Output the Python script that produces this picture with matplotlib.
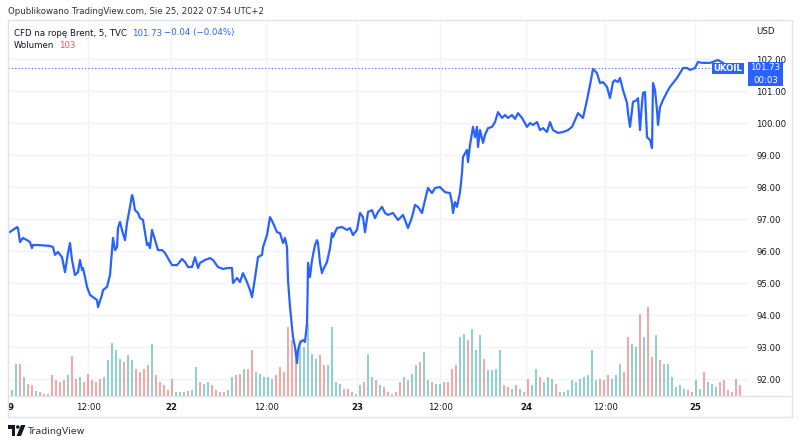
import numpy as np
import matplotlib
matplotlib.use("Agg")
import matplotlib.pyplot as plt
from matplotlib.patches import Rectangle, Polygon, Ellipse
from matplotlib.lines import Line2D
import matplotlib.transforms as mtransforms

# ---------------- data ----------------
# trading-time index (compressed session axis, ~34 min per unit)
t = [0, 1.25, 2.25, 2.5, 3, 3.75, 4.75, 5.5, 6, 6.25,
     7.25, 10.5, 11.25, 11.75, 12.5, 13.5, 14.25, 15, 15.5, 16,
     16.75, 17.5, 18, 18.5, 18.75, 19.25, 19.75, 20.5, 21.25, 22.25,
     22.5, 23.5, 23.75, 24.75, 25.5, 26.25, 26.75, 27.25, 27.5, 28,
     28.5, 29.25, 29.75, 30.5, 31, 31.25, 31.75, 32.25, 32.5, 33,
     33.75, 34.75, 35, 35.5, 36, 36.75, 37.5, 38.5, 39.25, 40,
     41, 42.25, 43.5, 44.25, 45, 46, 46.75, 47.5, 48, 49.25,
     50.5, 51.25, 52.5, 53.75, 55, 56, 56.25, 57.25, 58, 58.75,
     59.75, 60.5, 61, 61.75, 62.5, 63.5, 63.75, 64.75, 65.5, 66.25,
     67.25, 68, 68.75, 69.25, 69.75, 70, 70.5, 71.25, 71.75, 72.25,
     72.5, 73, 73.75, 74.25, 74.75, 74.9, 75, 75.5, 76, 76.25,
     76.75, 77.25, 77.5, 78, 78.5, 78.75, 79.75, 80.5, 81, 81.25,
     82.25, 83.5, 84.75, 85.5, 86.25, 87.25, 88, 88.75, 89.25, 90,
     91, 91.75, 92.5, 93.5, 94.25, 95, 96.25, 97.5, 98.75, 100,
     101, 101.75, 102.5, 103.5, 104.25, 105, 106, 106.75, 108, 109.25,
     110.5, 111, 111.25, 111.75, 112.25, 113, 113.5, 113.75, 114.75, 115,
     115.5, 116.25, 116.75, 117.25, 117.5, 118, 118.75, 119.25, 120, 121,
     121.75, 122.5, 123.5, 124.25, 125, 126, 126.75, 127.5, 128.5, 129.75,
     130.5, 131.25, 132.25, 133, 133.75, 134.75, 135.5, 136.25, 137.5, 138.75,
     140, 141, 141.75, 142.5, 143.5, 143.75, 144.75, 145.5, 146.25, 147.25,
     148, 148.75, 149.75, 150.5, 151.25, 151.75, 152.5, 153, 153.75, 154.75,
     155, 155.5, 156, 156.25, 157.25, 157.5, 158, 158.5, 158.75, 159.25,
     159.75, 160.5, 161, 161.25, 161.75, 162.25, 162.5, 163, 163.75, 164.75,
     165.5, 166.25, 167.25, 168, 168.75, 169.75, 170.5, 171.75, 172.5, 173.5,
     174.75, 175.5, 176.25, 177.5, 179.25, 181, 183]

price = [96.56, 96.66, 96.75, 96.72, 96.28, 96.41, 96.34, 96.28, 96.09, 96.19,
         96.19, 96.16, 96.12, 95.88, 95.97, 95.81, 95.34, 95.94, 96.25, 95.72,
         95.25, 95.34, 95.72, 95.41, 95.47, 95.19, 94.88, 94.63, 94.56, 94.47,
         94.25, 94.63, 94.78, 94.88, 95.25, 96.41, 96.03, 96.12, 96.72, 96.91,
         96.66, 96.34, 96.88, 97.38, 97.75, 97.66, 97.28, 97.22, 97.19, 97.03,
         96.97, 96.19, 96.25, 96.09, 96.66, 96.34, 96.03, 96.03, 95.94, 95.78,
         95.56, 95.56, 95.75, 95.66, 95.5, 95.5, 95.81, 95.47, 95.63, 95.72,
         95.78, 95.72, 95.5, 95.44, 95.47, 95.47, 95.0, 95.16, 95.03, 95.31,
         95.03, 94.78, 94.56, 95.16, 95.81, 95.88, 96.12, 96.5, 97.06, 96.88,
         96.59, 96.56, 96.25, 96.41, 96.12, 95.09, 94.25, 93.31, 93.0, 92.5,
         92.91, 93.13, 93.22, 93.16, 93.75, 94.69, 95.63, 95.19, 95.72, 95.88,
         96.19, 96.34, 96.25, 95.63, 95.31, 95.41, 95.66, 96.09, 96.56, 96.44,
         96.72, 96.75, 96.66, 96.72, 96.5, 96.66, 97.19, 97.06, 96.59, 97.22,
         97.28, 97.03, 97.22, 97.38, 97.19, 97.13, 97.19, 96.97, 97.13, 96.72,
         97.06, 97.44, 97.38, 97.19, 97.59, 97.97, 97.81, 97.97, 98.0, 97.84,
         97.81, 97.5, 97.19, 97.53, 97.38, 97.84, 98.44, 98.94, 99.16, 98.78,
         99.31, 99.88, 99.56, 99.88, 99.25, 99.78, 99.38, 99.63, 99.84, 99.88,
         100.03, 100.34, 100.16, 100.25, 100.16, 100.25, 100.13, 100.31, 100.16, 99.88,
         100.0, 99.94, 100.03, 99.78, 99.84, 99.72, 100.03, 99.78, 99.69, 99.72,
         99.78, 99.88, 100.09, 100.31, 100.19, 100.16, 100.72, 101.19, 101.69, 101.56,
         101.25, 101.28, 101.13, 100.78, 101.28, 101.34, 101.28, 101.41, 101.03, 100.63,
         100.31, 99.88, 100.41, 100.66, 100.72, 100.78, 99.78, 100.63, 100.94, 100.97,
         99.56, 99.47, 99.22, 101.25, 101.03, 100.41, 99.94, 100.5, 100.72, 100.97,
         101.13, 101.25, 101.41, 101.56, 101.72, 101.72, 101.66, 101.72, 101.91, 101.88,
         101.88, 101.88, 101.91, 101.97, 101.84, 101.78, 101.73]

volume = [64, 34, 194, 194, 114, 70, 64, 30, 24, 14,
          14, 124, 94, 84, 94, 124, 240, 104, 114, 84,
          134, 94, 84, 104, 114, 214, 320, 274, 224, 204,
          244, 214, 164, 144, 164, 184, 314, 124, 84, 64,
          34, 104, 24, 24, 24, 30, 38, 174, 84, 74,
          84, 64, 34, 24, 24, 34, 114, 124, 134, 164,
          164, 274, 144, 134, 114, 114, 104, 124, 174, 144,
          414, 334, 224, 334, 294, 434, 254, 224, 244, 184,
          184, 414, 84, 74, 44, 44, 24, 14, 64, 84,
          254, 114, 94, 64, 54, 24, 14, 24, 84, 114,
          94, 134, 184, 204, 264, 94, 84, 74, 74, 84,
          84, 164, 184, 354, 374, 334, 404, 274, 364, 224,
          154, 154, 164, 274, 64, 54, 44, 64, 44, 24,
          104, 64, 164, 114, 84, 114, 104, 74, 24, 24,
          34, 94, 84, 104, 114, 124, 274, 94, 104, 94,
          124, 104, 124, 194, 144, 354, 314, 294, 494, 354,
          534, 234, 364, 214, 194, 194, 114, 54, 64, 44,
          34, 24, 94, 44, 144, 84, 74, 54, 84, 94,
          34, 24, 104, 64]

price_ticks = [92, 93, 94, 95, 96, 97, 98, 99, 100, 101, 102]
time_tick_pos = [20, 40.75, 64.5, 87.25, 108, 129.5, 149.25, 171.75]
time_tick_lbl = ["12:00", "22", "12:00", "23", "12:00", "24", "12:00", "25"]
last_price = 101.73

# ---------------- styling ----------------
W, H = 800, 445
BLUE = "#2962FF"
TXT = "#131722"
GRID = "#f0f3fa"
BORDER = "#e0e3eb"
UP = "#26a69a"
DN = "#ef5350"
FS = 6.2
plt.rcParams["font.family"] = ["DejaVu Sans"]

def fx(px):
    return px / W

def fy(py):
    return 1 - py / H

fig = plt.figure(figsize=(W / 100, H / 100), dpi=100)
fig.patch.set_facecolor("white")

rect = [fx(8), fy(396), (748 - 8) / W, (396 - 20) / H]
XLIM = (0, 185)
PYLIM = (91.47, 103.22)

# price scale axes (bottom): grid + tick labels
axp = fig.add_axes(rect)
axp.set_xlim(*XLIM)
axp.set_ylim(*PYLIM)
for s in axp.spines.values():
    s.set_visible(False)
for p in price_ticks:
    axp.axhline(p, color=GRID, lw=1.0, zorder=0)
for x in time_tick_pos:
    axp.axvline(x, color=GRID, lw=1.0, zorder=0)
axp.yaxis.tick_right()
axp.set_yticks(price_ticks)
axp.set_yticklabels([f"{p:.2f}" for p in price_ticks])
axp.tick_params(axis="y", length=0, pad=6, labelsize=FS, labelcolor=TXT)
axp.set_xticks([0.6] + time_tick_pos)
axp.set_xticklabels(["9"] + time_tick_lbl)
axp.tick_params(axis="x", length=0, pad=5, labelsize=FS, labelcolor=TXT)
for lab in axp.get_xticklabels():
    if ":" not in lab.get_text():
        lab.set_fontweight("bold")

# volume axes (middle)
axv = fig.add_axes(rect)
axv.set_xlim(*XLIM)
axv.set_ylim(0, 2256)
axv.patch.set_alpha(0)
axv.axis("off")
vx = np.arange(len(volume))
pr_at = np.interp(vx, t, price)
cols = [UP] + [UP if pr_at[i] >= pr_at[i - 1] else DN for i in range(1, len(vx))]
axv.bar(vx, volume, width=0.65, color=cols, alpha=0.5, linewidth=0)

# price line axes (top)
axl = fig.add_axes(rect)
axl.set_xlim(*XLIM)
axl.set_ylim(*PYLIM)
axl.patch.set_alpha(0)
axl.axis("off")
axl.axhline(last_price, xmax=176 / 185, color=BLUE, lw=0.8, ls=(0, (1, 2)), zorder=1)
axl.plot(t, price, color=BLUE, lw=1.6, solid_joinstyle="round", zorder=2)

# UKOIL label
axl.add_patch(Rectangle((176, 101.53), 8, 0.345, facecolor=BLUE, edgecolor="none", zorder=5, clip_on=False))
axl.text(180, 101.70, "UKOIL", color="white", fontsize=FS, fontweight="bold",
         ha="center", va="center", zorder=6, clip_on=False)

# price scale label
blend = mtransforms.blended_transform_factory(axl.transAxes, axl.transData)
axl.add_patch(Rectangle((1.0, 101.156), 35 / 740, 0.75, transform=blend, facecolor=BLUE,
                        edgecolor="none", zorder=5, clip_on=False))
axl.text(1.0 + 17.5 / 740, 101.72, "101.73", transform=blend, color="white", fontsize=FS,
         ha="center", va="center", zorder=6, clip_on=False)
axl.text(1.0 + 17.5 / 740, 101.34, "00:03", transform=blend, color="white", fontsize=FS,
         ha="center", va="center", zorder=6, clip_on=False)

# frame lines
def fline(x0, y0, x1, y1, c=BORDER, lw=1.0):
    fig.add_artist(Line2D([fx(x0), fx(x1)], [fy(y0), fy(y1)], color=c, lw=lw,
                          transform=fig.transFigure))

fline(7.5, 20, 792, 20)
fline(7.5, 20, 7.5, 417)
fline(792, 20, 792, 417)
fline(7.5, 417, 792, 417)
fline(7.5, 396, 792, 396)

# texts
fig.text(fx(8), fy(11), "Opublikowano TradingView.com, Sie 25, 2022 07:54 UTC+2",
         fontsize=FS, color="#333333", va="center", ha="left")
fig.text(fx(14), fy(33), "CFD na ropę Brent, 5, TVC", fontsize=FS, color=TXT, va="center")
fig.text(fx(132), fy(33), "101.73", fontsize=FS, color=BLUE, va="center")
fig.text(fx(164), fy(33), "\u22120.04 (\u22120.04%)", fontsize=FS, color=BLUE, va="center")
fig.text(fx(14), fy(46), "Wolumen", fontsize=FS, color=TXT, va="center")
fig.text(fx(59), fy(46), "103", fontsize=FS, color="#F7525F", va="center")
fig.text(fx(756), fy(31), "USD", fontsize=FS, color=TXT, va="center")

# TradingView logo + text
logo_c = "#131722"
fig.add_artist(Rectangle((fx(8), fy(428.5)), 7 / W, 3.5 / H, transform=fig.transFigure,
                         facecolor=logo_c, edgecolor="none"))
fig.add_artist(Rectangle((fx(11.5), fy(436)), 3.5 / W, 11 / H, transform=fig.transFigure,
                         facecolor=logo_c, edgecolor="none"))
fig.add_artist(Ellipse((fx(17.8), fy(427)), 3.6 / W, 3.6 / H, transform=fig.transFigure,
                       facecolor=logo_c, edgecolor="none"))
fig.add_artist(Polygon([(fx(21), fy(425)), (fx(25.5), fy(425)), (fx(21), fy(436)), (fx(16.5), fy(436))],
                       closed=True, transform=fig.transFigure, facecolor=logo_c, edgecolor="none"))
fig.text(fx(27), fy(431), "TradingView", fontsize=6.8, color="#333333", va="center", ha="left")

fig.savefig("out.png", dpi=100)
